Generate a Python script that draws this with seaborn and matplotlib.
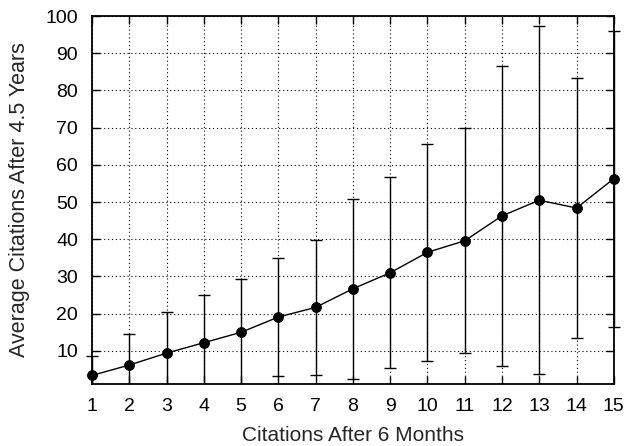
import matplotlib
matplotlib.use("Agg")
import matplotlib.pyplot as plt
import matplotlib.transforms as mtransforms
import seaborn as sns
import pandas as pd

citations_6m = [1, 2, 3, 4, 5, 6, 7, 8, 9, 10, 11, 12, 13, 14, 15]
avg_citations = [3.4, 6.2, 9.4, 12.2, 15.0, 19.1, 21.7, 26.7, 31.0, 36.5, 39.6, 46.3, 50.5, 48.4, 56.3]
std_citations = [5.2, 8.4, 11.0, 12.9, 14.4, 15.9, 18.1, 24.2, 25.7, 29.2, 30.3, 40.4, 46.7, 34.9, 39.8]
y_ticks = [10, 20, 30, 40, 50, 60, 70, 80, 90, 100]

df = pd.DataFrame({"x": citations_6m, "y": avg_citations, "err": std_citations})

sns.set_theme(style="ticks")
plt.rcParams["font.family"] = ["Liberation Sans", "DejaVu Sans"]

fig = plt.figure(figsize=(6.27, 4.46), dpi=100)
ax = fig.add_axes([0.1467, 0.139, 0.979 - 0.1467, 0.964 - 0.139])

eb = ax.errorbar(df["x"], df["y"], yerr=df["err"], fmt="none", ecolor="black",
                 elinewidth=1.0, capsize=4.5, capthick=1.0, zorder=3)
clip = mtransforms.TransformedBbox(mtransforms.Bbox([[-0.03, 0.0], [1.03, 1.0]]), ax.transAxes)
for art in eb.lines[1]:
    art.set_clip_box(clip)
for art in eb.lines[2]:
    art.set_clip_box(clip)

sns.lineplot(data=df, x="x", y="y", ax=ax, color="black", linewidth=1.0,
             marker="o", markersize=7, markeredgecolor="black", zorder=4, clip_on=False)

ax.set_xlim(1, 15)
ax.set_ylim(1.1, 100)
ax.set_xticks(citations_6m)
ax.set_yticks(y_ticks)
ax.grid(True, linestyle=(0, (1, 2.5)), color="black", linewidth=0.8)
ax.tick_params(direction="in", length=6, width=1, top=True, right=True,
               labelsize=14, colors="black", pad=10)
ax.tick_params(axis="x", pad=10)
for s in ax.spines.values():
    s.set_linewidth(1.3)
    s.set_color("black")
    s.set_visible(True)
ax.set_xlabel("Citations After 6 Months", fontsize=15, labelpad=8)
ax.set_ylabel("Average Citations After 4.5 Years", fontsize=15.5, labelpad=11)

fig.savefig("out.png", dpi=100)
